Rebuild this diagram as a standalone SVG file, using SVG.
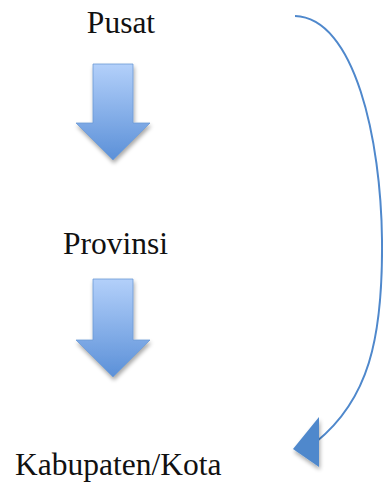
<svg xmlns="http://www.w3.org/2000/svg" width="383" height="482" viewBox="0 0 383 482">
<style>
.lbl{font-family:"Liberation Serif","Times New Roman",serif;font-size:31.5px;fill:#111}
.blk{fill:url(#g);stroke:#6d9bd6;stroke-width:0.8}
.conn{fill:none;stroke:#4f88cc;stroke-width:2}
</style>
<defs>
<linearGradient id="g" x1="0" y1="0" x2="0" y2="1">
<stop offset="0" stop-color="#b3d0fa"/>
<stop offset="1" stop-color="#5b90d8"/>
</linearGradient>
<filter id="sh" x="-30%" y="-30%" width="160%" height="160%">
<feGaussianBlur in="SourceAlpha" stdDeviation="2"/>
<feOffset dx="1" dy="3" result="b"/>
<feComponentTransfer><feFuncA type="linear" slope="0.35"/></feComponentTransfer>
<feMerge><feMergeNode/><feMergeNode in="SourceGraphic"/></feMerge>
</filter>
</defs>
<g id="pusat"><text class="lbl" x="121" y="33" text-anchor="middle">Pusat</text></g>
<g id="provinsi"><text class="lbl" x="115.5" y="254" text-anchor="middle">Provinsi</text></g>
<g id="kabupaten"><text class="lbl" x="15" y="475">Kabupaten/Kota</text></g>
<g id="arrow1" filter="url(#sh)"><path class="blk" d="M93,64 H133 V123 H150 L113,160 L76,123 H93 Z"/></g>
<g id="arrow2" filter="url(#sh)"><path class="blk" d="M93,279 H133 V340 H150 L113,377 L76,340 H93 Z"/></g>
<g id="connectors">
<path class="conn" d="M295,16 C355,18 381,140 382,240 C383,340 368,400 316,442"/>
<path d="M293,449 L319,417 L319,467 Z" fill="#4f88cc" filter="url(#sh)"/>
</g>
</svg>
